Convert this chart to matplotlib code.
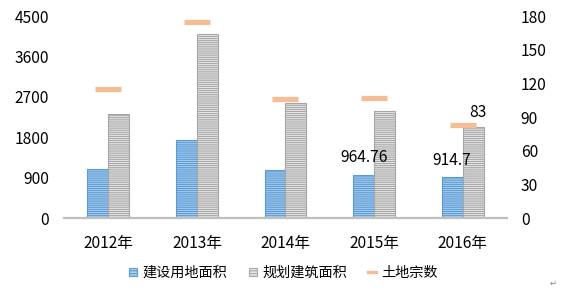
import numpy as np
import matplotlib
matplotlib.use("Agg")
import matplotlib.pyplot as plt
from matplotlib.patches import Patch
from matplotlib.lines import Line2D

plt.rcParams['font.family'] = ['Noto Sans CJK SC', 'DejaVu Sans']
plt.rcParams['hatch.linewidth'] = 0.75

# 数据
years = ["2012年", "2013年", "2014年", "2015年", "2016年"]
land_area = [1090, 1740, 1070, 964.76, 914.7]       # 建设用地面积
build_area = [2320, 4100, 2560, 2385, 2030]         # 规划建筑面积
land_count = [115, 175, 106, 107, 83]               # 土地宗数

blue_face = "#A9CDEE"
blue_line = "#5B9BD5"
gray_face = "#E6E6E6"
gray_line = "#A6A6A6"
orange = "#F6BC95"
fs = 11.2

fig = plt.figure(figsize=(5.62, 2.94), dpi=100)
ax = fig.add_axes([0.114, 0.2585, 0.788, 0.687])
ax2 = ax.twinx()

x = np.arange(len(years))
w = 0.237

ax.bar(x - w / 2, land_area, w, color=blue_face, edgecolor=blue_line,
       hatch="--------", linewidth=0.8, zorder=2)
ax.bar(x + w / 2, build_area, w, color=gray_face, edgecolor=gray_line,
       hatch="--------", linewidth=0.8, zorder=2)
ax2.plot(x, land_count, linestyle="none", marker="_", markersize=19,
         markeredgewidth=3.8, color=orange, zorder=3)

# 数据标签
for i in [3, 4]:
    ax.annotate(f"{land_area[i]:g}", (x[i] - w / 2, land_area[i]),
                xytext=(0, 6), textcoords="offset points",
                ha="center", va="bottom", fontsize=fs)
ax2.annotate(str(land_count[4]), (x[4], land_count[4]), xytext=(11, 3),
             textcoords="offset points", ha="center", va="bottom", fontsize=fs)

ax.set_xlim(-0.5, len(years) - 0.5)
ax.set_ylim(0, 4500)
ax.set_yticks(np.arange(0, 4501, 900))
ax2.set_ylim(0, 180)
ax2.set_yticks(np.arange(0, 181, 30))
ax.set_xticks(x)
ax.set_xticklabels(years)

for a in (ax, ax2):
    for s in a.spines.values():
        s.set_visible(False)
    a.tick_params(length=0, labelsize=fs)
ax.spines['bottom'].set_visible(True)
ax.spines['bottom'].set_color("#BFBFBF")
ax.spines['bottom'].set_linewidth(1.6)
ax.tick_params(axis='y', pad=11)
ax.tick_params(axis='x', pad=12)
ax2.tick_params(axis='y', pad=10)

handles = [
    Patch(facecolor=blue_face, edgecolor=blue_line, hatch="------", linewidth=0.8),
    Patch(facecolor=gray_face, edgecolor=gray_line, hatch="------", linewidth=0.8),
    Line2D([], [], color=orange, linewidth=2.5),
]
labels = ["建设用地面积", "规划建筑面积", "土地宗数"]
fig.legend(handles, labels, loc="center", bbox_to_anchor=(0.505, 0.072),
           ncol=3, frameon=False, fontsize=10.2, handlelength=0.55,
           handleheight=0.55, handletextpad=0.4, columnspacing=1.5)

fig.text(0.99, 0.02, "↵", fontsize=6, color="#808080", ha="right", va="bottom",
         family=['DejaVu Sans'])

fig.savefig("out.png", dpi=100)
